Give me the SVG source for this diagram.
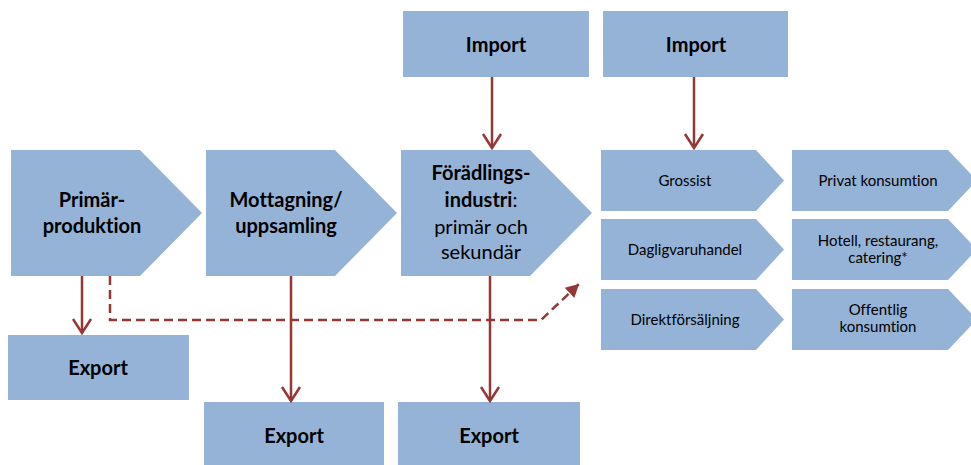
<svg xmlns="http://www.w3.org/2000/svg" width="971" height="465" viewBox="0 0 971 465">
<defs>
<style>
.box{fill:#95B3D7;}
.big{font-family:Lato,"Liberation Sans",sans-serif;font-size:20px;fill:#000;text-anchor:middle;font-variant-ligatures:none;}
.b{font-weight:bold;}
.sm{font-family:Lato,"Liberation Sans",sans-serif;font-size:15px;fill:#000;text-anchor:middle;font-variant-ligatures:none;}
.ln{stroke:#953735;stroke-width:2.5;fill:none;}
</style>
<marker id="open" markerUnits="userSpaceOnUse" viewBox="-16 -11 18 22" refX="0" refY="0" markerWidth="18" markerHeight="22" orient="auto">
<path d="M-14,-9 L0,0 L-14,9" fill="none" stroke="#953735" stroke-width="2.5"/>
</marker>
<marker id="solid" markerUnits="userSpaceOnUse" viewBox="-14 -8 15 16" refX="0" refY="0" markerWidth="15" markerHeight="16" orient="auto">
<path d="M-13,-7 L0,0 L-13,7 Z" fill="#953735"/>
</marker>
</defs>
<rect width="971" height="465" fill="#fff"/>

<g id="import1"><rect class="box" x="403" y="11" width="186" height="66"/><text class="big b" x="496" y="52">Import</text></g>
<g id="import2"><rect class="box" x="603" y="11" width="185" height="66"/><text class="big b" x="696" y="52">Import</text></g>

<g id="primar"><polygon class="box" points="11,150 140,150 202,213 140,276 11,276"/>
<text class="big b" x="92" y="207">Primär-</text><text class="big b" x="92" y="233">produktion</text></g>
<g id="mottagning"><polygon class="box" points="206,150 335,150 397,213 335,276 206,276"/>
<text class="big b" x="286" y="207">Mottagning/</text><text class="big b" x="286" y="233">uppsamling</text></g>
<g id="foradling"><polygon class="box" points="401,150 530,150 592,213 530,276 401,276"/>
<text class="big" x="481" y="180"><tspan class="b">Förädlings-</tspan></text>
<text class="big" x="481" y="207"><tspan class="b">industri</tspan>:</text>
<text class="big" x="481" y="234">primär och</text>
<text class="big" x="481" y="259">sekundär</text></g>

<g id="grossist"><polygon class="box" points="601,150 756,150 784,180.5 756,211 601,211"/><text class="sm" x="685" y="186">Grossist</text></g>
<g id="dagligvaruhandel"><polygon class="box" points="601,219 756,219 784,249.5 756,280 601,280"/><text class="sm" x="685" y="255">Dagligvaruhandel</text></g>
<g id="direktforsaljning"><polygon class="box" points="601,289 756,289 784,319.5 756,350 601,350"/><text class="sm" x="685" y="325">Direktförsäljning</text></g>

<g id="privat"><polygon class="box" points="792,150 948,150 977,180.5 948,211 792,211"/><text class="sm" x="878" y="186">Privat konsumtion</text></g>
<g id="hotell"><polygon class="box" points="792,219 948,219 977,249.5 948,280 792,280"/><text class="sm" x="878" y="246">Hotell, restaurang,</text><text class="sm" x="878" y="263">catering*</text></g>
<g id="offentlig"><polygon class="box" points="792,289 948,289 977,319.5 948,350 792,350"/><text class="sm" x="878" y="315">Offentlig</text><text class="sm" x="878" y="332">konsumtion</text></g>

<g id="export1"><rect class="box" x="8" y="335" width="181" height="65"/><text class="big b" x="98" y="375">Export</text></g>
<g id="export2"><rect class="box" x="204" y="402" width="180" height="63"/><text class="big b" x="294" y="443">Export</text></g>
<g id="export3"><rect class="box" x="398" y="402" width="182" height="63"/><text class="big b" x="489" y="443">Export</text></g>

<g id="connectors">
<line class="ln" x1="492" y1="77" x2="492" y2="148" marker-end="url(#open)"/>
<line class="ln" x1="694" y1="77" x2="694" y2="148" marker-end="url(#open)"/>
<line class="ln" x1="82" y1="276" x2="82" y2="333" marker-end="url(#open)"/>
<line class="ln" x1="291" y1="276" x2="291" y2="401" marker-end="url(#open)"/>
<line class="ln" x1="490" y1="276" x2="490" y2="401" marker-end="url(#open)"/>
<polyline class="ln" stroke-dasharray="9,5" points="110,276 110,320 541,320 579,284" marker-end="url(#solid)"/>
</g>
</svg>
